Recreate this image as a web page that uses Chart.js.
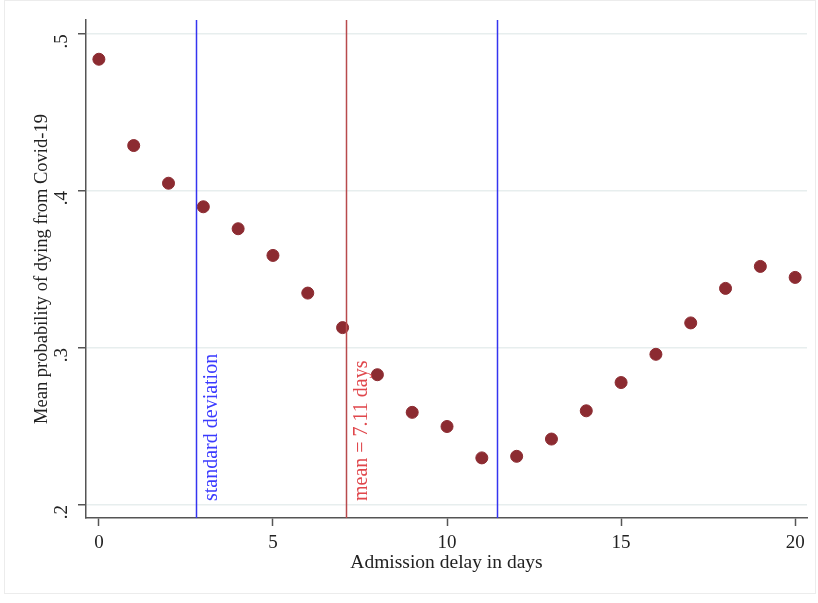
<!DOCTYPE html>
<html>
<head>
<meta charset="utf-8">
<script src="https://cdn.jsdelivr.net/npm/chart.js@4.4.1/dist/chart.umd.min.js"></script>
<style>
  html, body { margin: 0; padding: 0; background: #fff; }
  #wrap { width: 818px; height: 603px; }
</style>
</head>
<body>
<div id="wrap"><canvas id="chart" width="818" height="603"></canvas></div>
<script>
// admission delay (days) and mean probability of dying
const delays = [0, 1, 2, 3, 4, 5, 6, 7, 8, 9, 10, 11, 12, 13, 14, 15, 16, 17, 18, 19, 20];
const probs = [0.484, 0.429, 0.405, 0.390, 0.376, 0.359, 0.335, 0.313, 0.283, 0.259, 0.250,
               0.230, 0.231, 0.242, 0.260, 0.278, 0.296, 0.316, 0.338, 0.352, 0.345];
const xTicks = [0, 5, 10, 15, 20];
const yTicks = [0.2, 0.3, 0.4, 0.5];
const meanDelay = 7.11;
const sdDelay = 4.33;

const FONT = 'Liberation Serif, Times New Roman, serif';

// frame around the whole graph + vertical reference lines
const refLines = {
    id: 'refLines',
    beforeDraw(chart) {
        const c = chart.ctx;
        c.save();
        c.fillStyle = '#fff';
        c.fillRect(0, 0, chart.width, chart.height);
        c.strokeStyle = '#ececec';
        c.lineWidth = 1;
        c.strokeRect(4.5, 0.5, 811, 593);
        c.restore();
    },
    afterDatasetsDraw(chart) {
        const c = chart.ctx;
        const x = chart.scales.x;
        const area = chart.chartArea;
        const lines = [
            { v: meanDelay - sdDelay, color: '#3434f0', label: 'standard deviation', text: '#3a3aff' },
            { v: meanDelay, color: '#b84a4c', label: 'mean = ' + meanDelay + ' days', text: '#e0474c' },
            { v: meanDelay + sdDelay, color: '#3434f0', label: null }
        ];
        c.save();
        for (const l of lines) {
            const px = Math.round(x.getPixelForValue(l.v)) + 0.5;
            c.strokeStyle = l.color;
            c.lineWidth = 1.5;
            c.beginPath();
            c.moveTo(px, area.top);
            c.lineTo(px, area.bottom);
            c.stroke();
            if (l.label) {
                c.save();
                c.translate(px + 15, area.bottom - 17);
                c.rotate(-Math.PI / 2);
                c.fillStyle = l.text;
                c.font = '20px ' + FONT;
                c.textAlign = 'left';
                c.textBaseline = 'middle';
                c.fillText(l.label, 0, 0);
                c.restore();
            }
        }
        c.restore();
    }
};

new Chart(document.getElementById('chart'), {
    type: 'scatter',
    data: {
        datasets: [{
            data: delays.map((d, i) => ({ x: d, y: probs[i] })),
            backgroundColor: '#8c2b31',
            borderColor: '#8c2b31',
            pointRadius: 6,
            pointHoverRadius: 6
        }]
    },
    options: {
        responsive: false,
        animation: false,
        layout: { padding: { left: 31, right: 11, top: 20, bottom: 28 } },
        plugins: { legend: { display: false }, tooltip: { enabled: false } },
        scales: {
            x: {
                type: 'linear',
                min: -0.37,
                max: 20.34,
                afterBuildTicks: s => { s.ticks = xTicks.map(v => ({ value: v })); },
                afterFit: s => { s.height = 57; s.paddingLeft = 0; s.paddingRight = 0; },
                border: { color: '#555', width: 1.5 },
                grid: { drawOnChartArea: false, tickColor: '#555', tickLength: 8, tickWidth: 1.5 },
                ticks: { color: '#222', font: { family: FONT, size: 19 }, padding: 6, maxRotation: 0 },
                title: {
                    display: true,
                    text: 'Admission delay in days',
                    color: '#222',
                    font: { family: FONT, size: 19.5 },
                    padding: { top: 0, bottom: 0 }
                }
            },
            y: {
                min: 0.1917,
                max: 0.509,
                afterBuildTicks: s => { s.ticks = yTicks.map(v => ({ value: v })); },
                afterFit: s => { s.width = 55; s.paddingTop = 0; s.paddingBottom = 0; },
                border: { color: '#555', width: 1.5 },
                grid: { color: '#e7eeee', lineWidth: 1.5, tickColor: '#555', tickLength: 8, tickWidth: 1.5 },
                ticks: {
                    color: '#222',
                    font: { family: FONT, size: 19 },
                    padding: 16,
                    minRotation: 90,
                    maxRotation: 90,
                    callback: v => String(Math.round(v * 10) / 10).replace(/^0/, '')
                },
                title: {
                    display: true,
                    text: 'Mean probability of dying from Covid-19',
                    color: '#222',
                    font: { family: FONT, size: 18.5 },
                    padding: { top: 0, bottom: 0 }
                }
            }
        }
    },
    plugins: [refLines]
});
</script>
</body>
</html>
